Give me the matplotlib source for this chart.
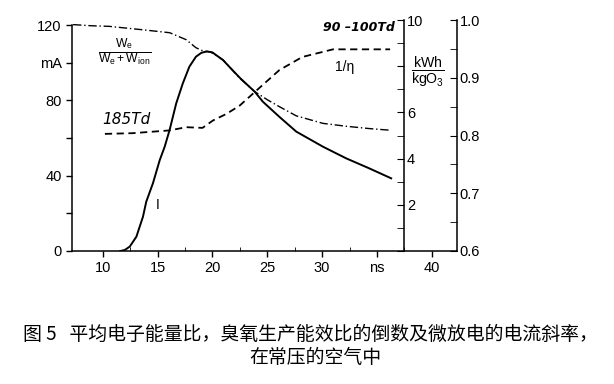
import numpy as np
import matplotlib
matplotlib.use("Agg")
import matplotlib.pyplot as plt

plt.rcParams['font.family'] = ['Liberation Sans', 'DejaVu Sans']
plt.rcParams['mathtext.fontset'] = 'custom'
plt.rcParams['mathtext.rm'] = 'Liberation Sans'
plt.rcParams['mathtext.it'] = 'Liberation Sans'

# micro-discharge current I (mA)
t_cur = [11.6, 12.0, 12.46, 13.07, 13.67, 13.97, 14.58, 15.2, 15.65, 16.1,
         16.7, 17.3, 17.9, 18.5, 19.0, 19.5, 20.0, 20.97, 21.6, 22.5, 23.86,
         24.6, 26.1, 27.65, 30.08, 32.2, 34.3, 36.3]
cur_ma = [0, 0.5, 2.3, 7.6, 18.2, 26.2, 36, 48.3, 55.4, 64.3,
          78.4, 89, 97.9, 103.2, 105.3, 106, 105.5, 101.4, 97.5, 92, 84.6,
          79.3, 71.3, 63.4, 55.4, 49.2, 43.9, 38.6]

# mean electron energy ratio We/(We+Wion)
t_ratio = [7.3, 9.0, 10.6, 13.67, 16.1, 17.6, 18.5, 19.2, 19.8, 20.97,
           22.5, 23.86, 25.0, 26.1, 27.65, 30.08, 32.2, 34.3, 36.3]
ratio = [0.992, 0.990, 0.989, 0.983, 0.978, 0.966, 0.952, 0.946, 0.945,
         0.931, 0.899, 0.876, 0.862, 0.850, 0.834, 0.821, 0.816, 0.812, 0.809]

# inverse ozone production efficiency 1/eta (kWh/kgO3)
t_eta = [10.2, 12.7, 16.1, 17.6, 19.1, 20.05, 21.3, 22.5, 23.86, 26.1,
         28.2, 31.0, 36.2]
inv_eta = [5.07, 5.10, 5.22, 5.36, 5.33, 5.65, 5.94, 6.3, 6.88, 7.83,
           8.4, 8.73, 8.73]

x_ticks = [10, 15, 20, 25, 30, 35, 40]
x_labels = ['10', '15', '20', '25', '30', 'ns', '40']
cur_ticks = [0, 20, 40, 60, 80, 100, 120]
cur_labels = ['0', '', '40', '', '80', 'mA', '120']
eta_ticks = [0, 2, 4, 6, 8, 10]
eta_labels = ['', '2', '4', '6', '', '10']
ratio_ticks = [0.6, 0.7, 0.8, 0.9, 1.0]

fig = plt.figure(figsize=(6.14, 3.84), dpi=100)
pos = [72 / 614, 133 / 384, 385 / 614, 231 / 384]
ax = fig.add_axes(pos)
ax2 = ax.twinx()
ax3 = ax.twinx()

ax.plot(t_cur, cur_ma, color='black', lw=1.4)
ax3.plot(t_ratio, ratio, color='black', lw=1.0, ls=(0, (6, 2, 1, 2)))
ax2.plot(t_eta, inv_eta, color='black', lw=1.3, ls=(0, (4, 2.5)))

ax.set_xlim(7.2, 42.3)
ax.set_ylim(0, 122.7)
ax2.set_ylim(0, 10)
ax3.set_ylim(0.6, 1.0)

for s in ['top', 'right']:
    ax.spines[s].set_visible(False)
ax.spines['left'].set_bounds(0, 120)
for s in ['top', 'left', 'bottom']:
    ax2.spines[s].set_visible(False)
    ax3.spines[s].set_visible(False)
ax2.spines['right'].set_position(('axes', 332 / 385))

ax.set_xticks(x_ticks)
ax.set_xticklabels(x_labels, fontsize=10.5)
ax.set_xticks(np.arange(12.5, 42, 5), minor=True)
ax.set_yticks(cur_ticks)
ax.set_yticklabels(cur_labels, fontsize=10.5)
ax.tick_params(direction='out', length=4, width=1)
ax.tick_params(which='minor', direction='in', length=3)

ax2.set_yticks(eta_ticks)
ax2.set_yticklabels(eta_labels, fontsize=10.5)
ax2.set_yticks(np.arange(1, 10, 2), minor=True)
ax2.tick_params(axis='y', which='both', direction='in', length=5, pad=2)

ax3.set_yticks(ratio_ticks)
ax3.set_yticklabels([f'{v:.1f}' for v in ratio_ticks], fontsize=10.5)
ax3.set_yticks(np.arange(0.65, 1.0, 0.05), minor=True)
ax3.tick_params(axis='y', which='both', direction='in', length=5, pad=2)

for a in (ax, ax2, ax3):
    for sp in a.spines.values():
        sp.set_linewidth(1.1)

# annotations
ax.text(12.0, 105.5, r'$\frac{\mathrm{W_e}}{\mathrm{W_e + W_{ion}}}$',
        fontsize=12.5, ha='center', va='center')
ax.text(10.0, 70, '185Td', fontsize=11, fontstyle='italic',
        family='DejaVu Sans', ha='left', va='center')
ax.text(36.6, 118.5, '90 \u2013100Td', fontsize=9, fontstyle='italic',
        fontweight='bold', family='DejaVu Sans', ha='right', va='center')
ax.text(32.1, 98, '1/\u03b7', fontsize=10, ha='center', va='center')
ax.text(15.0, 24.5, 'I', fontsize=10, ha='center', va='center')
ax.text(0.925, 95 / 122.7, r'$\frac{\mathrm{kWh}}{\mathrm{kgO_3}}$',
        transform=ax.transAxes, fontsize=14.5, ha='center', va='center')

cjk = ['Noto Sans CJK SC', 'DejaVu Sans']
fig.text(0.505, 0.130, '图 5   平均电子能量比，臭氧生产能效比的倒数及微放电的电流斜率，',
         family=cjk, fontsize=13.6, ha='center', va='center')
fig.text(0.514, 0.070, '在常压的空气中', family=cjk, fontsize=13.6,
         ha='center', va='center')

fig.savefig('out.png', dpi=100)
